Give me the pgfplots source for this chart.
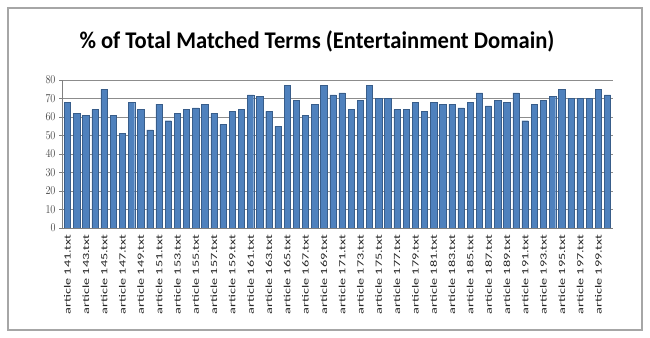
\documentclass[border=0pt]{standalone}
\usepackage{pgfplots}
\pgfplotsset{compat=1.18}
\usepackage{fontspec}
\setmainfont{Carlito}
\definecolor{barblue}{HTML}{4F81BD}
\definecolor{baredge}{HTML}{385D8A}
\newcommand{\lab}[1]{\scalebox{1.5}[1]{article #1.txt}}
\begin{document}
\begin{tikzpicture}
\path[use as bounding box] (0bp,0bp) rectangle (650bp,338bp);
\draw[black!35, line width=1.2bp] (8bp,8bp) rectangle (642bp,330bp);
\node at (317bp,297bp) {\scalebox{0.945}[1]{\fontsize{24}{28}\selectfont\bfseries \% of Total Matched Terms (Entertainment Domain)}};
\begin{axis}[
  at={(62bp,110bp)}, anchor=south west,
  scale only axis, width=551bp, height=148bp,
  ymin=0, ymax=80, ytick={0,10,...,80},
  xmin=-0.6, xmax=59.6,
  ybar, bar width=6.3bp,
  axis x line*=bottom, axis y line*=left,
  axis line style={-, black!50},
  ymajorgrids, grid style={black!45, line width=0.6bp},
  xtick={0,2,...,58},
  xticklabels={\lab{141},\lab{143},\lab{145},\lab{147},\lab{149},\lab{151},\lab{153},\lab{155},\lab{157},\lab{159},\lab{161},\lab{163},\lab{165},\lab{167},\lab{169},\lab{171},\lab{173},\lab{175},\lab{177},\lab{179},\lab{181},\lab{183},\lab{185},\lab{187},\lab{189},\lab{191},\lab{193},\lab{195},\lab{197},\lab{199}},
  xticklabel style={rotate=90, anchor=east, font=\fontsize{9.5}{11}\selectfont, text=black!85},
  yticklabel={\scalebox{0.85}[1]{\pgfmathprintnumber{\tick}}},
  yticklabel style={font=\fontsize{12}{14}\selectfont, text=black!75},
  x tick style={draw=none},
  minor xtick={-0.5,0.5,...,59.5},
  minor x tick style={black!50},
  minor tick length=3bp,
  y tick style={black!50},
  tick align=outside, major tick length=3bp,
  xtick pos=bottom, ytick pos=left,
]
\addplot[fill=barblue, draw=baredge] coordinates {
(0,68) (1,62) (2,61) (3,64) (4,75) (5,61) (6,51) (7,68) (8,64) (9,53)
(10,67) (11,58) (12,62) (13,64) (14,65) (15,67) (16,62) (17,56) (18,63) (19,64)
(20,72) (21,71) (22,63) (23,55) (24,77) (25,69) (26,61) (27,67) (28,77) (29,72)
(30,73) (31,64) (32,69) (33,77) (34,70) (35,70) (36,64) (37,64) (38,68) (39,63)
(40,68) (41,67) (42,67) (43,65) (44,68) (45,73) (46,66) (47,69) (48,68) (49,73)
(50,58) (51,67) (52,69) (53,71) (54,75) (55,70) (56,70) (57,70) (58,75) (59,72)
};
\end{axis}
\end{tikzpicture}
\end{document}
